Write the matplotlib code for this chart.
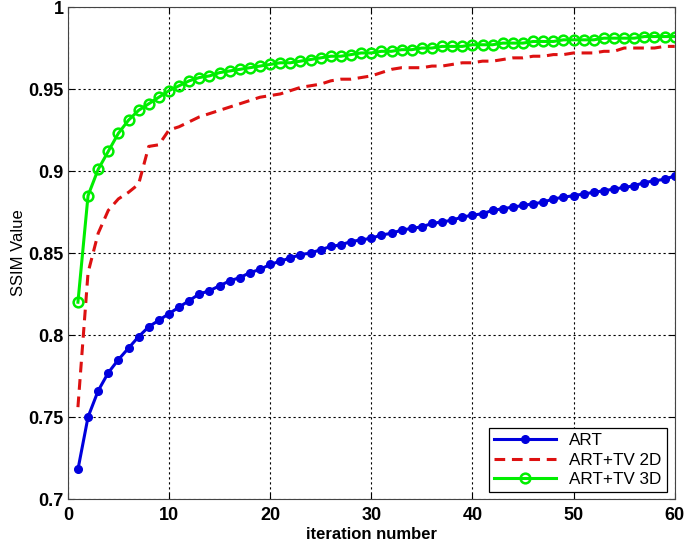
"""SSIM value versus iteration number for ART, ART+TV 2D and ART+TV 3D."""

import matplotlib

matplotlib.use("Agg")
import matplotlib.pyplot as plt
import numpy as np

iterations = np.arange(1, 61)

ssim_art = [
    0.718, 0.750, 0.766, 0.777, 0.785, 0.792, 0.799, 0.805, 0.809, 0.813,
    0.817, 0.821, 0.825, 0.827, 0.830, 0.833, 0.835, 0.838, 0.840, 0.843,
    0.845, 0.847, 0.849, 0.850, 0.852, 0.854, 0.855, 0.857, 0.858, 0.859,
    0.861, 0.862, 0.864, 0.865, 0.866, 0.868, 0.869, 0.870, 0.872, 0.873,
    0.874, 0.876, 0.877, 0.878, 0.879, 0.880, 0.881, 0.883, 0.884, 0.885,
    0.886, 0.887, 0.888, 0.889, 0.890, 0.891, 0.893, 0.894, 0.895, 0.897,
]

ssim_tv2d = [
    0.756, 0.838, 0.862, 0.876, 0.883, 0.887, 0.892, 0.915, 0.916, 0.925,
    0.927, 0.930, 0.933, 0.935, 0.937, 0.939, 0.941, 0.943, 0.945, 0.946,
    0.947, 0.949, 0.951, 0.952, 0.953, 0.955, 0.956, 0.956, 0.957, 0.958,
    0.960, 0.962, 0.963, 0.963, 0.963, 0.964, 0.964, 0.965, 0.966, 0.966,
    0.967, 0.967, 0.968, 0.969, 0.969, 0.970, 0.970, 0.971, 0.971, 0.972,
    0.972, 0.972, 0.973, 0.973, 0.975, 0.975, 0.975, 0.975, 0.976, 0.976,
]

ssim_tv3d = [
    0.820, 0.885, 0.901, 0.912, 0.923, 0.931, 0.937, 0.941, 0.945, 0.949,
    0.952, 0.955, 0.957, 0.958, 0.960, 0.961, 0.962, 0.963, 0.964, 0.965,
    0.966, 0.966, 0.967, 0.968, 0.969, 0.970, 0.970, 0.971, 0.972, 0.972,
    0.973, 0.973, 0.974, 0.974, 0.975, 0.975, 0.976, 0.976, 0.976, 0.977,
    0.977, 0.977, 0.978, 0.978, 0.978, 0.979, 0.979, 0.979, 0.980, 0.980,
    0.980, 0.980, 0.981, 0.981, 0.981, 0.981, 0.982, 0.982, 0.982, 0.982,
]

x_ticks = [0, 10, 20, 30, 40, 50, 60]
y_ticks = [0.7, 0.75, 0.8, 0.85, 0.9, 0.95, 1.0]
y_tick_labels = ["0.7", "0.75", "0.8", "0.85", "0.9", "0.95", "1"]

plt.rcParams["font.family"] = ["Liberation Sans", "DejaVu Sans"]

fig = plt.figure(figsize=(6.85, 5.45), dpi=100)
ax = fig.add_axes([0.099, 0.0844, 0.886, 0.9027])

ax.plot(iterations, ssim_art, color="#0000dd", linewidth=2.2, marker="o",
        markersize=5.5, label="ART")
ax.plot(iterations, ssim_tv2d, color="#dd1111", linewidth=2.2,
        linestyle=(0, (3.5, 2.2)), label="ART+TV 2D")
ax.plot(iterations, ssim_tv3d, color="#00ee00", linewidth=2.2, marker="o",
        markersize=7, markerfacecolor="none", markeredgewidth=1.8,
        label="ART+TV 3D")

ax.set_xlim(0, 60)
ax.set_ylim(0.7, 1.0)
ax.set_xticks(x_ticks)
ax.set_yticks(y_ticks)
ax.set_yticklabels(y_tick_labels)
ax.tick_params(direction="in", length=4, labelsize=13, top=True, right=True)
ax.tick_params(axis="x", pad=6)
ax.tick_params(axis="y", pad=3)
for label in ax.get_xticklabels() + ax.get_yticklabels():
    label.set_fontweight("bold")

ax.grid(True, color="black", linestyle=(0, (2, 2.5)), linewidth=0.8)
for spine in ax.spines.values():
    spine.set_color("#444444")

ax.set_xlabel("iteration number", fontsize=12, fontweight="bold", labelpad=2)
ax.set_ylabel("SSIM Value", fontsize=12, labelpad=2)

legend = ax.legend(loc="lower right", bbox_to_anchor=(0.987, 0.014),
                   fontsize=12.3, fancybox=False, framealpha=1,
                   edgecolor="black", handlelength=3.6, borderpad=0.3,
                   labelspacing=0.25, borderaxespad=0)
legend.get_frame().set_linewidth(0.9)

fig.savefig("out.png", dpi=100)
